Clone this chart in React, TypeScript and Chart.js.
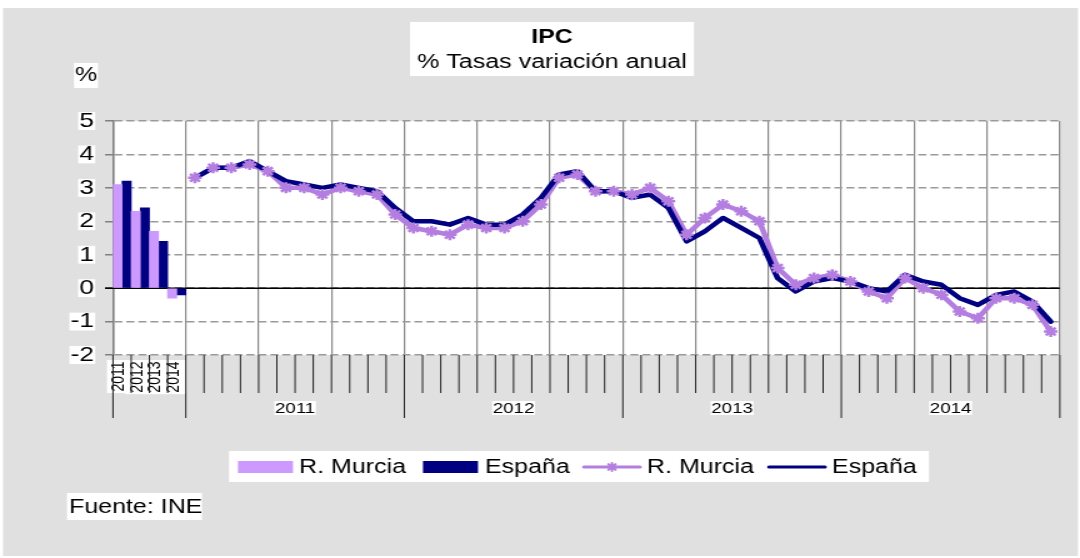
import React, { useEffect, useRef } from "react";
import { Chart, registerables } from "chart.js";

Chart.register(...registerables);

// ---------------- data ----------------
const annualLabels = ["2011", "2012", "2013", "2014"];
const monthNames = ["ene", "feb", "mar", "abr", "may", "jun", "jul", "ago", "sep", "oct", "nov", "dic"];
const years = ["2011", "2012", "2013", "2014"];
const monthLabels = years.flatMap((y) => monthNames.map((m) => `${m}-${y.slice(2)}`));

const murciaAnnual = [3.1, 2.3, 1.7, -0.3];
const espanaAnnual = [3.2, 2.4, 1.4, -0.2];

const murciaMonthly = [
  3.3, 3.6, 3.6, 3.7, 3.5, 3.0, 3.0, 2.8, 3.0, 2.9, 2.8, 2.2,
  1.8, 1.7, 1.6, 1.9, 1.8, 1.8, 2.0, 2.5, 3.3, 3.4, 2.9, 2.9,
  2.8, 3.0, 2.6, 1.6, 2.1, 2.5, 2.3, 2.0, 0.6, 0.1, 0.3, 0.4,
  0.2, -0.1, -0.3, 0.3, 0.0, -0.2, -0.7, -0.9, -0.3, -0.3, -0.5, -1.3,
];
const espanaMonthly = [
  3.3, 3.6, 3.6, 3.8, 3.5, 3.2, 3.1, 3.0, 3.1, 3.0, 2.9, 2.4,
  2.0, 2.0, 1.9, 2.1, 1.9, 1.9, 2.2, 2.7, 3.4, 3.5, 2.9, 2.9,
  2.7, 2.8, 2.4, 1.4, 1.7, 2.1, 1.8, 1.5, 0.3, -0.1, 0.2, 0.3,
  0.2, 0.0, -0.1, 0.4, 0.2, 0.1, -0.3, -0.5, -0.2, -0.1, -0.4, -1.0,
];

const seriesNames = ["R. Murcia", "España"];
const titleText = "IPC";
const subtitleText = "% Tasas variación anual";
const unitText = "%";
const sourceText = "Fuente: INE";

// ---------------- styling ----------------
const FONT = '"Liberation Sans", Arial, Helvetica, sans-serif';
Chart.defaults.font.family = FONT;

const S = 1.25; // the reference picture is stretched horizontally
const W = 864;
const H = 558;
const sx = (x: number) => x / S;

const GRAY_BG = "#e0e0e0";
const MURCIA_BAR = "#cc99ff";
const MURCIA_LINE = "#b47ee0";
const NAVY = "#000080";

const pad4 = (arr: number[]) => [null, null, null, null, ...arr];

function drawStar(ctx: CanvasRenderingContext2D, x: number, y: number, r: number) {
  const d = r * Math.SQRT1_2;
  ctx.beginPath();
  ctx.moveTo(x - r, y); ctx.lineTo(x + r, y);
  ctx.moveTo(x, y - r); ctx.lineTo(x, y + r);
  ctx.moveTo(x - d, y - d); ctx.lineTo(x + d, y + d);
  ctx.moveTo(x - d, y + d); ctx.lineTo(x + d, y - d);
  ctx.stroke();
}

const decorPlugin = {
  id: "decor",
  beforeDraw(chart: any) {
    const { ctx, chartArea: a } = chart;
    ctx.save();
    ctx.fillStyle = "#ffffff";
    ctx.fillRect(0, 0, W, H);
    ctx.fillStyle = GRAY_BG;
    ctx.fillRect(sx(3), 8, sx(1078) - sx(3), 548);
    ctx.fillStyle = "#ffffff";
    ctx.fillRect(a.left, a.top, a.right - a.left, a.bottom - a.top);
    // title box, unit box, legend box, source box
    ctx.fillRect(sx(410), 22, sx(694) - sx(410), 54);
    ctx.fillRect(sx(74), 63, sx(98) - sx(74), 25);
    ctx.fillRect(sx(229), 451, sx(929) - sx(229), 31);
    ctx.fillRect(sx(67), 493, sx(202) - sx(67), 27);
    ctx.restore();
  },
  beforeDatasetsDraw(chart: any) {
    const { ctx, chartArea: a, scales } = chart;
    const y0 = scales.y.getPixelForValue(0);
    ctx.save();
    ctx.strokeStyle = "#000";
    ctx.lineWidth = 1.5;
    ctx.beginPath();
    ctx.moveTo(a.left - sx(8), y0);
    ctx.lineTo(a.right, y0);
    ctx.stroke();
    ctx.restore();
  },
  afterDraw(chart: any) {
    const { ctx, chartArea: a, scales } = chart;
    const xs = scales.x;
    const p0 = xs.getPixelForValue(0);
    const sp = xs.getPixelForValue(1) - p0;
    const bx = (k: number) => p0 - sp / 2 + k * sp;
    const n = annualLabels.length + monthLabels.length;
    const bounds = [0, annualLabels.length];
    years.forEach((_, i) => bounds.push(annualLabels.length + 12 * (i + 1)));

    ctx.save();
    // category tick marks below the axis
    ctx.strokeStyle = "#222";
    ctx.lineWidth = 1;
    for (let k = 0; k <= n; k++) {
      const x = bx(k);
      const long = bounds.includes(k);
      ctx.beginPath();
      ctx.moveTo(x, a.bottom);
      ctx.lineTo(x, long ? 418 : 393);
      ctx.stroke();
    }
    // year group labels
    ctx.font = `15px ${FONT}`;
    ctx.textAlign = "center";
    ctx.textBaseline = "middle";
    years.forEach((lab, i) => {
      const cx = (bx(bounds[i + 1]) + bx(bounds[i + 2])) / 2;
      const w = ctx.measureText(lab).width + 1;
      ctx.fillStyle = "#fff";
      ctx.fillRect(cx - w / 2, 401, w, 14);
      ctx.fillStyle = "#000";
      ctx.fillText(lab, cx, 408.5);
    });

    // titles
    ctx.fillStyle = "#000";
    ctx.font = `bold 20px ${FONT}`;
    ctx.fillText(titleText, sx(552), 37);
    ctx.font = `20px ${FONT}`;
    ctx.fillText(subtitleText, sx(552), 62);
    ctx.fillText(unitText, sx(86), 75.5);

    // legend
    const ly = 467;
    ctx.fillStyle = MURCIA_BAR;
    ctx.fillRect(sx(238), 461, sx(293) - sx(238), 12);
    ctx.fillStyle = NAVY;
    ctx.fillRect(sx(423), 461, sx(478) - sx(423), 12);
    ctx.lineCap = "round";
    ctx.lineWidth = 3;
    ctx.strokeStyle = MURCIA_LINE;
    ctx.beginPath();
    ctx.moveTo(sx(584), ly);
    ctx.lineTo(sx(640), ly);
    ctx.stroke();
    ctx.lineWidth = 2;
    drawStar(ctx, sx(612), ly, 4);
    ctx.lineWidth = 3;
    ctx.strokeStyle = NAVY;
    ctx.beginPath();
    ctx.moveTo(sx(769), ly);
    ctx.lineTo(sx(825), ly);
    ctx.stroke();

    ctx.fillStyle = "#000";
    ctx.textAlign = "left";
    ctx.font = `20px ${FONT}`;
    ctx.fillText(seriesNames[0], sx(299), ly);
    ctx.fillText(seriesNames[1], sx(485), ly);
    ctx.fillText(seriesNames[0], sx(647), ly);
    ctx.fillText(seriesNames[1], sx(832), ly);

    // source
    ctx.fillText(sourceText, sx(69), 507);
    ctx.restore();
  },
};

export default function App() {
  const ref = useRef<HTMLCanvasElement>(null);

  useEffect(() => {
    const canvas = ref.current;
    if (!canvas) return;
    const labels = [...annualLabels, ...monthLabels];
    const chart = new Chart(canvas, {
      type: "bar",
      data: {
        labels,
        datasets: [
          {
            type: "bar",
            label: seriesNames[0],
            data: murciaAnnual,
            backgroundColor: MURCIA_BAR,
            barPercentage: 1,
            categoryPercentage: 1,
            order: 4,
          },
          {
            type: "bar",
            label: seriesNames[1],
            data: espanaAnnual,
            backgroundColor: NAVY,
            barPercentage: 1,
            categoryPercentage: 1,
            order: 4,
          },
          {
            type: "line",
            label: seriesNames[0],
            data: pad4(murciaMonthly),
            borderColor: MURCIA_LINE,
            borderWidth: 4.5,
            pointRadius: 0,
            borderJoinStyle: "round",
            borderCapStyle: "round",
            tension: 0,
            order: 3,
          },
          {
            type: "line",
            label: seriesNames[1],
            data: pad4(espanaMonthly),
            borderColor: NAVY,
            borderWidth: 4.5,
            pointRadius: 0,
            borderJoinStyle: "round",
            borderCapStyle: "round",
            tension: 0,
            order: 2,
          },
          {
            type: "line",
            label: seriesNames[0] + " (marcadores)",
            data: pad4(murciaMonthly),
            showLine: false,
            pointStyle: "star",
            pointRadius: 5.5,
            pointBorderColor: MURCIA_LINE,
            pointBackgroundColor: MURCIA_LINE,
            pointBorderWidth: 2.5,
            order: 1,
          },
        ] as any,
      },
      options: {
        responsive: false,
        animation: false,
        devicePixelRatio: 1,
        events: [],
        layout: { padding: { left: 0, top: 121, right: W - sx(1066), bottom: H - 355 - 60 } },
        plugins: {
          legend: { display: false },
          title: { display: false },
          tooltip: { enabled: false },
        },
        scales: {
          x: {
            type: "category",
            offset: true,
            grid: {
              offset: true,
              drawTicks: false,
              lineWidth: 1.2,
              color: (c: any) =>
                c.index === undefined || c.index % 4 === 0 ? "#8a8a8a" : "rgba(0,0,0,0)",
            },
            border: { display: false },
            ticks: {
              autoSkip: false,
              minRotation: 90,
              maxRotation: 90,
              padding: 6.5,
              labelOffset: -10.6,
              color: "#000",
              font: { size: 14, lineHeight: 1.2 },
              callback: (_v: any, i: number) => (i < annualLabels.length ? annualLabels[i] : ""),
              showLabelBackdrop: (c: any) => c.index < annualLabels.length,
              backdropColor: "#ffffff",
              backdropPadding: 1.5,
            },
            afterFit: (s: any) => {
              s.height = 60;
            },
          } as any,
          y: {
            min: -2,
            max: 5,
            ticks: {
              stepSize: 1,
              padding: 8.8,
              color: "#000",
              font: { size: 21, lineHeight: 0.85 },
              showLabelBackdrop: true,
              backdropColor: "#ffffff",
              backdropPadding: { left: 1, right: 1, top: 0, bottom: 0 },
            },
            grid: {
              color: "#9a9a9a",
              lineWidth: 1.5,
              tickLength: 6.4,
              tickColor: "#808080",
              tickWidth: 1.5,
            },
            border: { display: true, color: "#808080", width: 1.5, dash: [6.4, 3.2] },
            afterFit: (s: any) => {
              s.width = sx(113);
            },
          } as any,
        },
      },
      plugins: [decorPlugin],
    });
    return () => chart.destroy();
  }, []);

  return (
    <div style={{ position: "fixed", left: 0, top: 0, width: 1080, height: 558 }}>
      <canvas
        ref={ref}
        width={W}
        height={H}
        style={{ width: "1080px", height: "558px", display: "block" }}
      />
    </div>
  );
}
